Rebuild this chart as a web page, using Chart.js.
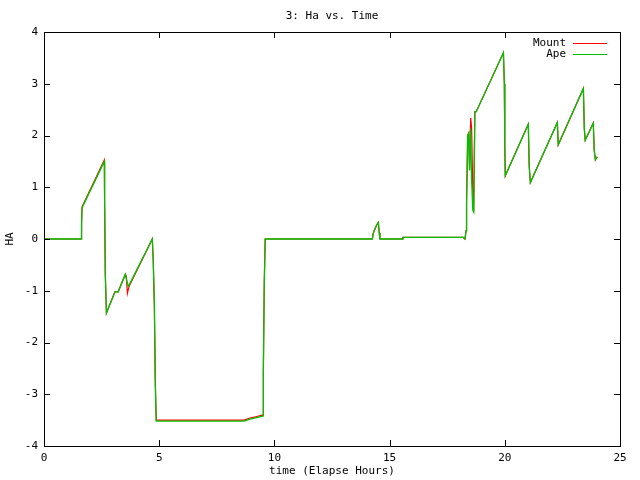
<!DOCTYPE html>
<html>
<head>
<meta charset="utf-8">
<title>3: Ha vs. Time</title>
<script src="https://cdn.jsdelivr.net/npm/chart.js@4/dist/chart.umd.min.js"></script>
<style>
  body { margin: 0; background: #fff; }
  canvas { display: block; }
</style>
</head>
<body>
<canvas id="haChart" width="640" height="480"></canvas>
<script>
// Elapsed hours / Ha values
const mountX = [0, 1.62, 1.63, 1.65, 2.62, 2.63, 2.66, 2.71, 3.08, 3.22, 3.53, 3.57, 3.62, 3.69, 4.70,
  4.74, 4.79, 4.83, 4.87, 8.69, 8.94, 9.23, 9.52, 9.52, 9.56, 9.60, 14.25, 14.29, 14.34, 14.44, 14.51,
  14.55, 14.58, 15.55, 15.58, 18.20, 18.27, 18.32, 18.34, 18.39, 18.43, 18.47, 18.52, 18.56, 18.61,
  18.65, 18.70, 18.76, 19.94, 19.98, 20.00, 20.02, 21.02, 21.06, 21.11, 22.28, 22.32, 23.41, 23.45,
  23.49, 23.84, 23.88, 23.93, 24.01];
const mountY = [0, 0, 0.29, 0.62, 1.53, 0.79, -0.68, -1.43, -1.02, -1.02, -0.68, -0.72, -1.05, -0.92, 0.0,
  -0.40, -1.27, -2.77, -3.50, -3.50, -3.46, -3.43, -3.40, -2.56, -0.86, 0, 0, 0.11, 0.17, 0.27, 0.32,
  0.12, 0, 0, 0.03, 0.03, 0.0, 0.16, 0.69, 2.0, 2.04, 1.33, 2.34, 2.14, 0.95,
  0.52, 2.46, 2.46, 3.60, 3.0, 1.82, 1.22, 2.22, 1.40, 1.09, 2.25, 1.82, 2.91, 2.14,
  1.91, 2.24, 1.72, 1.53, 1.59];

const apeX = [0, 1.62, 1.63, 1.65, 2.62, 2.63, 2.66, 2.71, 3.08, 3.22, 3.53, 3.57, 3.66, 4.70,
  4.74, 4.79, 4.83, 4.87, 8.69, 8.94, 9.23, 9.52, 9.52, 9.56, 9.60, 14.25, 14.29, 14.34, 14.44, 14.51,
  14.55, 14.58, 15.55, 15.58, 18.20, 18.27, 18.32, 18.34, 18.39, 18.43, 18.47, 18.51, 18.56, 18.61,
  18.65, 18.70, 18.76, 19.94, 19.98, 20.00, 20.02, 21.02, 21.06, 21.11, 22.28, 22.32, 23.41, 23.45,
  23.49, 23.84, 23.88, 23.93, 24.01];
const apeY = [0, 0, 0.29, 0.60, 1.50, 0.79, -0.68, -1.43, -1.02, -1.02, -0.68, -0.76, -0.92, 0.0,
  -0.40, -1.27, -2.77, -3.52, -3.52, -3.48, -3.45, -3.42, -2.56, -0.86, 0, 0, 0.11, 0.17, 0.27, 0.32,
  0.12, 0, 0, 0.03, 0.03, 0.0, 0.16, 0.69, 2.0, 2.04, 1.33, 2.14, 1.14, 0.56,
  0.52, 2.46, 2.46, 3.60, 3.0, 1.82, 1.22, 2.22, 1.40, 1.09, 2.25, 1.82, 2.91, 2.14,
  1.91, 2.24, 1.72, 1.53, 1.59];

const xTicks = [0, 5, 10, 15, 20, 25];
const yTicks = [-4, -3, -2, -1, 0, 1, 2, 3, 4];

const seriesNames = ['Mount', 'Ape'];
const seriesColors = ['#ff0000', '#00c000'];

const FONT = "11px 'DejaVu Sans Mono', 'Liberation Mono', monospace";

function toPoints(xs, ys) {
    return xs.map((x, i) => ({ x: x, y: ys[i] }));
}

// gnuplot-like frame, inward mirrored ticks, key and labels
const gnuplotFrame = {
    id: 'gnuplotFrame',
    afterDraw(chart) {
        const { ctx, chartArea: a, scales } = chart;
        const sx = scales.x, sy = scales.y;
        ctx.save();
        ctx.strokeStyle = '#000';
        ctx.lineWidth = 1;
        ctx.strokeRect(a.left + 0.5, a.top + 0.5, a.right - a.left, a.bottom - a.top);

        ctx.beginPath();
        xTicks.forEach(v => {
            const px = Math.round(sx.getPixelForValue(v)) + 0.5;
            ctx.moveTo(px, a.bottom); ctx.lineTo(px, a.bottom - 6);
            ctx.moveTo(px, a.top); ctx.lineTo(px, a.top + 6);
        });
        yTicks.forEach(v => {
            const py = Math.round(sy.getPixelForValue(v)) + 0.5;
            ctx.moveTo(a.left, py); ctx.lineTo(a.left + 6, py);
            ctx.moveTo(a.right, py); ctx.lineTo(a.right - 6, py);
        });
        ctx.stroke();

        ctx.font = FONT;
        ctx.textBaseline = 'middle';

        // key
        seriesNames.forEach((name, i) => {
            const ky = 43 + i * 11;
            ctx.fillStyle = '#000';
            ctx.textAlign = 'right';
            ctx.fillText(name, 566, ky);
            ctx.fillStyle = seriesColors[i];
            ctx.fillRect(573, ky, 34, 1);
        });

        ctx.fillStyle = '#000';
        const midX = (a.left + a.right) / 2;
        ctx.textAlign = 'center';
        ctx.fillText('3: Ha vs. Time', midX, 16);
        ctx.fillText('time (Elapse Hours)', midX, 471);

        ctx.translate(10, (a.top + a.bottom) / 2);
        ctx.rotate(-Math.PI / 2);
        ctx.fillText('HA', 0, 0);
        ctx.restore();
    }
};

new Chart(document.getElementById('haChart'), {
    type: 'line',
    data: {
        datasets: [
            {
                label: seriesNames[0],
                data: toPoints(mountX, mountY),
                borderColor: seriesColors[0],
                borderWidth: 1.2,
                pointRadius: 0,
                tension: 0,
                order: 1
            },
            {
                label: seriesNames[1],
                data: toPoints(apeX, apeY),
                borderColor: seriesColors[1],
                borderWidth: 1.3,
                pointRadius: 0,
                tension: 0,
                order: 0
            }
        ]
    },
    options: {
        responsive: false,
        animation: false,
        layout: { padding: { top: 32, right: 20, left: 0, bottom: 0 } },
        plugins: {
            legend: { display: false },
            title: { display: false },
            tooltip: { enabled: false }
        },
        scales: {
            x: {
                type: 'linear',
                min: 0,
                max: 25,
                afterFit: s => { s.height = 34; },
                afterBuildTicks: s => { s.ticks = xTicks.map(v => ({ value: v })); },
                grid: { display: false, drawTicks: false },
                border: { display: false },
                ticks: {
                    padding: 6,
                    maxRotation: 0,
                    color: '#000',
                    font: { family: "'DejaVu Sans Mono', monospace", size: 11 }
                }
            },
            y: {
                type: 'linear',
                min: -4,
                max: 4,
                afterFit: s => { s.width = 44; },
                afterBuildTicks: s => { s.ticks = yTicks.map(v => ({ value: v })); },
                grid: { display: false, drawTicks: false },
                border: { display: false },
                ticks: {
                    padding: 6,
                    color: '#000',
                    font: { family: "'DejaVu Sans Mono', monospace", size: 11 }
                }
            }
        }
    },
    plugins: [gnuplotFrame]
});
</script>
</body>
</html>
